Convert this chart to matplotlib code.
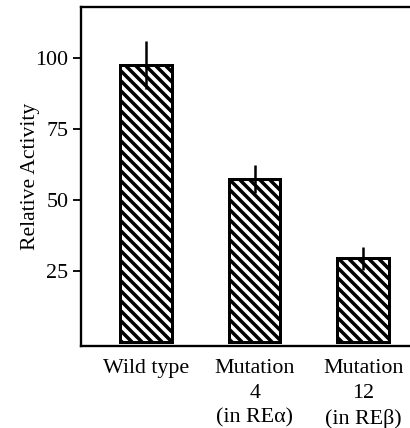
import matplotlib
matplotlib.use("Agg")
import matplotlib.pyplot as plt

labels = ["Wild type", "Mutation\n4\n(in REα)", "Mutation\n12\n(in REβ)"]
activity = [97.5, 57.5, 29.5]
errors = [8.5, 5.0, 4.0]
yticks = [25, 50, 75, 100]

plt.rcParams["font.family"] = ["Liberation Serif", "DejaVu Serif"]
plt.rcParams["hatch.linewidth"] = 2.1
plt.rcParams["hatch.color"] = "black"

# dpi 120 so that the hatch spacing comes out near the scan's ~10 px
fig = plt.figure(figsize=(410 / 120, 428 / 120), dpi=120)
ax = fig.add_axes([0.1976, 0.1916, 0.81, 0.792])

pos = range(len(activity))
ax.bar(pos, activity, width=0.475, color="white", edgecolor="black",
       linewidth=1.8, hatch="\\\\\\\\", zorder=2)
ax.errorbar(pos, activity, yerr=errors, fmt="none", ecolor="black",
            elinewidth=1.5, capsize=0, zorder=3)

ax.set_xlim(-0.6, 2.46)
ax.set_ylim(-1.4, 118)
ax.set_yticks(yticks)
ax.set_yticklabels([str(t) for t in yticks], fontsize=13.2)
ax.set_xticks(list(pos))
ax.set_xticklabels(labels, fontsize=13.2, linespacing=1.4, va="top")
ax.tick_params(axis="x", length=0, pad=8)
ax.tick_params(axis="y", length=5, width=1.1, pad=2.6, direction="out")
ax.set_ylabel("Relative Activity", fontsize=13, labelpad=-3)

ax.spines["right"].set_visible(False)
for s in ["left", "top", "bottom"]:
    ax.spines[s].set_linewidth(1.4)

fig.savefig("out.png", dpi=120)
